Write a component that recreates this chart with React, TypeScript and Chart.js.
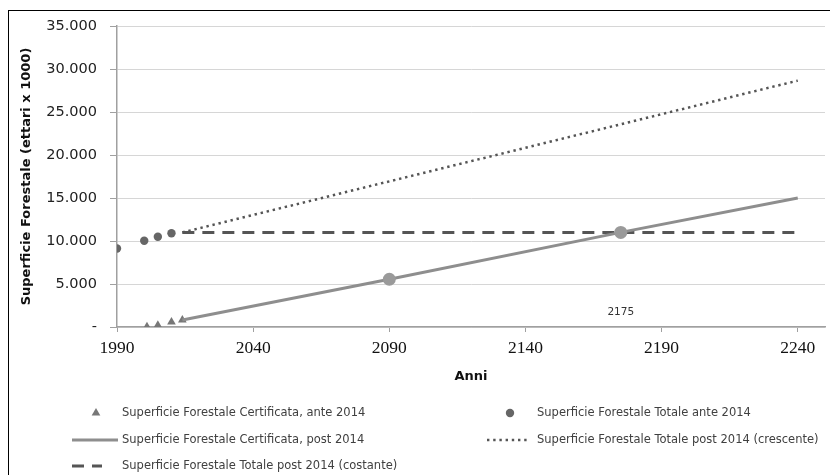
import React, { useEffect, useRef } from 'react';
import { Chart, registerables } from 'chart.js';

Chart.register(...registerables);

// ---------- data ----------
const certAnteYears = [2001, 2005, 2010, 2014];
const certAnteValues = [30, 200, 580, 820];

const totAnteYears = [1990, 2000, 2005, 2010];
const totAnteValues = [9130, 10030, 10500, 10900];

const certPostYears = [2014, 2090, 2175, 2240];
const certPostValues = [820, 5550, 11000, 15000];
const highlightYears = [2090, 2175];

const totCrescYears = [2014, 2240];
const totCrescValues = [11000, 28650];

const totCostYears = [2014, 2240];
const totCostValues = [11000, 11000];

const xTickValues = [1990, 2040, 2090, 2140, 2190, 2240];
const yTickValues = [0, 5000, 10000, 15000, 20000, 25000, 30000, 35000];

const seriesLabels = [
  'Superficie Forestale Certificata, ante 2014',
  'Superficie Forestale Totale ante 2014',
  'Superficie Forestale Certificata, post 2014',
  'Superficie Forestale Totale post 2014 (crescente)',
  'Superficie Forestale Totale post 2014 (costante)',
];

const xTitle = 'Anni';
const yTitle = 'Superficie Forestale (ettari x 1000)';

const annotationYear = 2175;
const annotationValue = 1700;
const annotationText = '2175';

// ---------- helpers ----------
const toPts = (xs: number[], ys: number[]) => xs.map((x, i) => ({ x, y: ys[i] }));

const fmtIt = (v: number) => {
  if (v === 0) return '-';
  const s = Math.round(v).toString();
  return s.replace(/\B(?=(\d{3})+(?!\d))/g, '.');
};

const legendRowY = [413, 440, 466];
const legendSymbolX = [96, 510];
const legendLineStart = [72, 487];
const legendTextX = [122, 537];

const legendPlugin = {
  id: 'customLegend',
  afterDraw(chart: any) {
    const ctx: CanvasRenderingContext2D = chart.ctx;
    ctx.save();
    chart.data.datasets.forEach((ds: any, i: number) => {
      const col = i % 2;
      const row = Math.floor(i / 2);
      const y = legendRowY[row];
      if (ds.showLine === false) {
        const cx = legendSymbolX[col];
        ctx.fillStyle = ds.backgroundColor;
        ctx.beginPath();
        if (ds.pointStyle === 'triangle') {
          const r = ds.pointRadius;
          ctx.moveTo(cx, y - r);
          ctx.lineTo(cx + r * Math.sin((2 * Math.PI) / 3), y - r * Math.cos((2 * Math.PI) / 3));
          ctx.lineTo(cx + r * Math.sin((4 * Math.PI) / 3), y - r * Math.cos((4 * Math.PI) / 3));
          ctx.closePath();
        } else {
          ctx.arc(cx, y, ds.pointRadius, 0, Math.PI * 2);
        }
        ctx.fill();
      } else {
        const x0 = legendLineStart[col];
        const x1 = ds.legendEnd;
        ctx.strokeStyle = ds.borderColor;
        ctx.lineWidth = ds.borderWidth;
        ctx.lineCap = 'butt';
        ctx.setLineDash(ds.borderDash || []);
        ctx.beginPath();
        ctx.moveTo(x0, y);
        ctx.lineTo(x1, y);
        ctx.stroke();
        ctx.setLineDash([]);
      }
      ctx.fillStyle = '#404040';
      ctx.font = '11.5px "DejaVu Sans"';
      ctx.textBaseline = 'middle';
      ctx.textAlign = 'left';
      ctx.fillText(ds.label, legendTextX[col], y);
    });
    ctx.restore();
  },
};

const annotationPlugin = {
  id: 'annotationLabel',
  afterDatasetsDraw(chart: any) {
    const ctx: CanvasRenderingContext2D = chart.ctx;
    const x = chart.scales.x.getPixelForValue(annotationYear);
    const y = chart.scales.y.getPixelForValue(annotationValue);
    ctx.save();
    ctx.fillStyle = '#333';
    ctx.font = '10.5px "DejaVu Sans"';
    ctx.textAlign = 'center';
    ctx.textBaseline = 'middle';
    ctx.fillText(annotationText, x, y);
    ctx.restore();
  },
};

export default function App() {
  const ref = useRef<HTMLCanvasElement>(null);

  useEffect(() => {
    if (!ref.current) return;
    const chart = new Chart(ref.current, {
      type: 'line',
      data: {
        datasets: [
          {
            label: seriesLabels[0],
            data: toPts(certAnteYears, certAnteValues),
            showLine: false,
            pointStyle: 'triangle',
            pointRadius: 5,
            backgroundColor: '#777777',
            borderColor: '#777777',
            pointBorderWidth: 0,
            order: 2,
          } as any,
          {
            label: seriesLabels[1],
            data: toPts(totAnteYears, totAnteValues),
            showLine: false,
            pointStyle: 'circle',
            pointRadius: 4.2,
            backgroundColor: '#666666',
            borderColor: '#666666',
            pointBorderWidth: 0,
            order: 2,
          } as any,
          {
            label: seriesLabels[2],
            data: toPts(certPostYears, certPostValues),
            borderColor: '#8e8e8e',
            borderWidth: 3,
            backgroundColor: '#9a9a9a',
            pointBackgroundColor: '#9a9a9a',
            pointBorderWidth: 0,
            pointRadius: (c: any) => (highlightYears.includes(c.raw?.x) ? 6.5 : 0),
            legendEnd: 118,
            order: 0,
          } as any,
          {
            label: seriesLabels[3],
            data: toPts(totCrescYears, totCrescValues),
            borderColor: '#555555',
            borderWidth: 2.5,
            borderDash: [2.4, 3.8],
            pointRadius: 0,
            legendEnd: 529,
            order: 3,
          } as any,
          {
            label: seriesLabels[4],
            data: toPts(totCostYears, totCostValues),
            borderColor: '#555555',
            borderWidth: 3,
            borderDash: [12, 8],
            pointRadius: 0,
            legendEnd: 102,
            order: 1,
          } as any,
        ],
      },
      options: {
        responsive: false,
        animation: false,
        layout: { padding: { top: 26, right: 1, bottom: 88, left: 0 } },
        plugins: {
          legend: { display: false },
          tooltip: { enabled: false },
        },
        scales: {
          x: {
            type: 'linear',
            min: 1990,
            max: 2250,
            afterBuildTicks: (s: any) => {
              s.ticks = xTickValues.map((v) => ({ value: v }));
            },
            afterFit: (s: any) => {
              s.height = 60;
            },
            grid: {
              drawOnChartArea: false,
              drawTicks: true,
              tickLength: 5,
              tickColor: '#a0a0a0',
            },
            border: { color: '#a0a0a0', width: 1.5 },
            ticks: {
              padding: 6,
              color: '#111',
              font: { family: '"Liberation Serif"', size: 17.5 },
              maxRotation: 0,
              autoSkip: false,
              callback: (v: any) => String(v),
            },
            title: {
              display: true,
              text: xTitle,
              color: '#111',
              font: { family: '"DejaVu Sans"', size: 13, weight: 'bold' },
              padding: { top: 0, bottom: 3 },
            },
          },
          y: {
            type: 'linear',
            min: 0,
            max: 35000,
            afterBuildTicks: (s: any) => {
              s.ticks = yTickValues.map((v) => ({ value: v }));
            },
            afterFit: (s: any) => {
              s.width = 117;
            },
            grid: {
              color: '#d6d6d6',
              lineWidth: 1,
              tickLength: 7,
              tickColor: '#a0a0a0',
            },
            border: { color: '#a0a0a0', width: 1.5 },
            ticks: {
              padding: 13,
              color: '#222',
              font: { family: '"DejaVu Sans"', size: 14.5 },
              callback: (v: any) => fmtIt(Number(v)),
            },
            title: {
              display: true,
              text: yTitle,
              color: '#111',
              font: { family: '"DejaVu Sans"', size: 13, weight: 'bold' },
              padding: { top: 19, bottom: 0 },
            },
          },
        },
      } as any,
      plugins: [legendPlugin, annotationPlugin],
    });
    return () => chart.destroy();
  }, []);

  return (
    <div style={{ position: 'fixed', left: 0, top: 0, width: 830, height: 475, background: '#fff', overflow: 'hidden' }}>
      <div
        style={{
          position: 'absolute',
          left: 8,
          top: 10,
          width: 830,
          height: 475,
          borderLeft: '1px solid #000',
          borderTop: '1px solid #000',
          boxSizing: 'border-box',
        }}
      />
      <canvas
        ref={ref}
        width={830}
        height={475}
        style={{ position: 'absolute', left: 0, top: 0, width: 830, height: 475 }}
      />
    </div>
  );
}
